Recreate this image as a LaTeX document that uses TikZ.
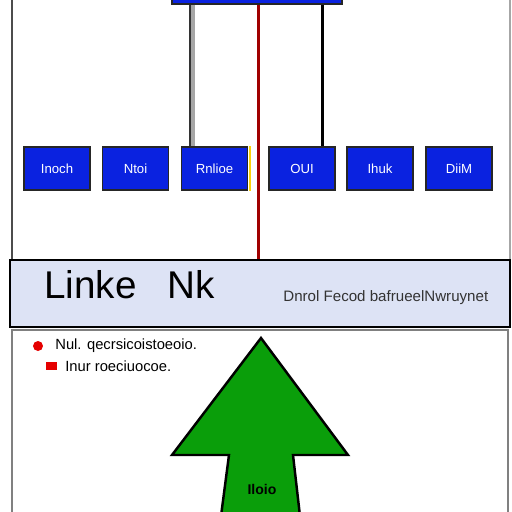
\documentclass[tikz,border=0pt]{standalone}
\usepackage{fontspec}
\setmainfont{Liberation Sans}
\usetikzlibrary{positioning,calc}
\definecolor{boxblue}{HTML}{0A22E0}
\definecolor{banner}{HTML}{DDE3F5}
\definecolor{arrowgreen}{HTML}{0A9E0A}
\definecolor{wirered}{HTML}{A00000}
\begin{document}
\begin{tikzpicture}[x=0.02cm, y=-0.02cm,
        unit/.style={draw=black!85, line width=0.9pt, fill=boxblue, text=white,
            minimum width=1.32cm, minimum height=0.86cm, inner sep=0pt,
            font=\fontsize{7.5}{9}\selectfont},
        note/.style={anchor=west, inner sep=0pt, font=\fontsize{8.4}{9}\selectfont}]
        \useasboundingbox (0, 0) rectangle (512, 512);
        \draw[black!70, line width=0.8pt] (12, -5) -- (12, 260);
        \draw[black!35, line width=0.8pt] (510, -5) -- (510, 260);
        \draw[black!50, line width=0.8pt] (12, 330) rectangle (508, 520);
        \node[unit, minimum width=3.4cm, minimum height=0.28cm] (top) at (257, -3) {};
        \node[unit] (inoch) at (57, 168.5) {Inoch};
        \node[unit] (ntoi) at (135.5, 168.5) {Ntoi};
        \node[unit] (rnlioe) at (214.5, 168.5) {Rnlioe};
        \node[unit] (oui) at (302, 168.5) {OUI};
        \node[unit] (ihuk) at (380, 168.5) {Ihuk};
        \node[unit] (diim) at (459, 168.5) {DiiM};
        \draw[yellow!70!orange, line width=1pt] ([xshift=1pt]rnlioe.north east) -- ([xshift=1pt]rnlioe.south east);
        \node[draw=black, line width=1pt, fill=banner, minimum width=10cm,
            minimum height=1.34cm, inner sep=0pt] (banner) at (260, 293.5) {};
        \node[anchor=west, inner sep=0pt, font=\fontsize{22}{24}\selectfont]
            (title) at (44, 285) {Linke\hspace{0.8em}Nk};
        \node[note, font=\fontsize{8.6}{9}\selectfont, text=black!80]
            (subtitle) at (283, 298) {Dnrol Fecod bafrueelNwruynet};
        \coordinate (gap) at ($(rnlioe.north east)!0.5!(oui.north west)$);
        \draw[black!80, line width=3.4pt] ([xshift=0.22cm]top.south -| rnlioe.north west) -- ([xshift=0.22cm]rnlioe.north west);
        \draw[gray!70, line width=2.2pt] ([xshift=0.24cm]top.south -| rnlioe.north west) -- ([xshift=0.24cm]rnlioe.north west);
        \draw[black, line width=1.6pt] ([xshift=-0.26cm]top.south -| oui.north east) -- ([xshift=-0.26cm]oui.north east);
        \draw[wirered, line width=1.8pt] (top.south -| gap) -- (banner.north -| gap);
        \fill[red!90!black] (38, 346) circle (5);
        \node[note] (legendone) at (55, 346) {Nul. qecrsicoistoeoio.};
        \fill[red!90!black] (46, 362) rectangle (57, 370);
        \node[note] (legendtwo) at (65, 366) {Inur roeciuocoe.};
        \draw[black, line width=1.4pt, fill=arrowgreen]
            (261, 338) -- (348, 455) -- (293, 455) -- (300, 516)
            -- (221, 516) -- (229, 455) -- (172, 455) -- cycle;
        \node[font=\bfseries\fontsize{8}{9}\selectfont] (flow) at (262, 489) {Iloio};
\end{tikzpicture}
\end{document}
